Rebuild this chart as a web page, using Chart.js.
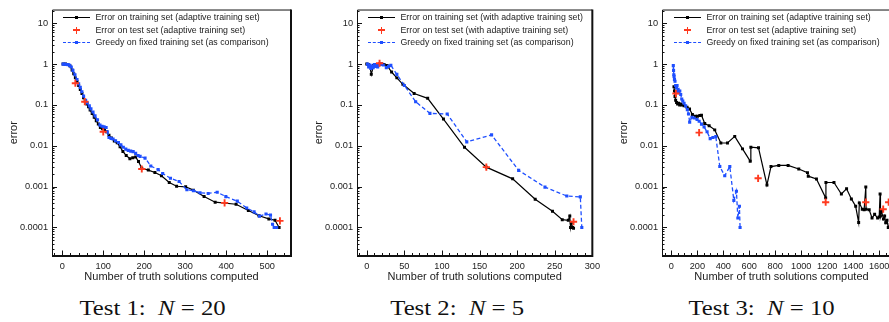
<!DOCTYPE html>
<html>
<head>
<meta charset="utf-8">
<script src="https://cdn.jsdelivr.net/npm/chart.js@4.4.1/dist/chart.umd.min.js"></script>
<style>
  body { margin: 0; width: 889px; height: 322px; overflow: hidden; background: #fff; position: relative;
         font-family: "Liberation Sans", Arial, sans-serif; }
  canvas { position: absolute; top: 0; }
  .leg { position: absolute; font-size: 8.8px; color: #222; white-space: nowrap; }
  .row { height: 12.6px; line-height: 12.6px; }
  .smp { display: inline-block; position: relative; width: 27px; height: 12.6px; vertical-align: top; margin-right: 5.5px; }
  .ln { position: absolute; left: 0; right: 0; top: 6px; height: 0; }
  .ln.k { border-top: 1.2px solid #000; }
  .ln.b { border-top: 1.3px dashed #1f4fff; }
  .sq { position: absolute; left: 12px; top: 5px; width: 3px; height: 3px; }
  .cr1, .cr2 { position: absolute; background: #ff3a1f; }
  .cr1 { left: 10px; top: 5.8px; width: 7px; height: 1.8px; }
  .cr2 { left: 12.6px; top: 3.2px; width: 1.8px; height: 7px; }
  .cap { position: absolute; width: 300px; text-align: center; top: 298px; line-height: 21px;
         font-family: "Liberation Serif", "DejaVu Serif", serif; font-size: 21.5px; color: #111; }
  .cap span { display: inline-block; transform: scaleX(1.15); transform-origin: center; white-space: pre; }
</style>
</head>
<body>
<canvas id="c1" width="300" height="290" style="left:0px"></canvas>
<canvas id="c2" width="300" height="290" style="left:305px"></canvas>
<canvas id="c3" width="300" height="290" style="left:610px"></canvas>
<div id="legends"></div>
<div class="cap" style="left:3px"><span>Test 1:  <i>N</i> = 20</span></div>
<div class="cap" style="left:307px"><span>Test 2:  <i>N</i> = 5</span></div>
<div class="cap" style="left:612px"><span>Test 3:  <i>N</i> = 10</span></div>
<script>
// Test 1 (N = 20)
const t1TrainX = [2, 8, 14, 19, 24, 28, 32, 36, 40, 44, 48, 52, 56, 60, 64, 68, 73, 78, 83, 88, 93, 98, 103, 108, 114, 120, 127, 134, 141, 148, 156, 165, 172, 179, 186, 194, 210, 226, 242, 261, 279, 301, 320, 346, 373, 424, 454, 480, 504, 519, 529];
const t1TrainErr = [1.0, 1.0, 0.97, 0.9, 0.72, 0.58, 0.46, 0.37, 0.3, 0.24, 0.19, 0.15, 0.125, 0.105, 0.09, 0.075, 0.062, 0.05, 0.041, 0.034, 0.028, 0.026, 0.025, 0.022, 0.018, 0.0155, 0.013, 0.0118, 0.0095, 0.0072, 0.0058, 0.0048, 0.0051, 0.0053, 0.0041, 0.0028, 0.00254, 0.00222, 0.00185, 0.00126, 0.00102, 0.00099, 0.00082, 0.00057, 0.000415, 0.00037, 0.00026, 0.000194, 0.000162, 0.00015, 0.0001];
const t1TestX = [32, 55, 100, 194, 396, 531];
const t1TestErr = [0.34, 0.12, 0.022, 0.0027, 0.0004, 0.000145];
const t1GreedyX = [2, 6, 10, 14, 18, 22, 26, 31, 36, 40, 44, 48, 52, 57, 61, 66, 70, 75, 80, 86, 92, 97, 102, 107, 110, 114, 119, 124, 130, 137, 143, 149, 155, 161, 167, 173, 179, 185, 190, 202, 216, 234, 245, 264, 285, 304, 320, 336, 356, 378, 399, 427, 450, 468, 481, 497, 508, 513, 517, 523];
const t1GreedyErr = [1.0, 1.0, 0.98, 0.97, 0.93, 0.85, 0.7, 0.55, 0.42, 0.33, 0.27, 0.21, 0.165, 0.13, 0.112, 0.095, 0.08, 0.067, 0.054, 0.043, 0.032, 0.03, 0.029, 0.028, 0.022, 0.016, 0.0152, 0.0146, 0.0133, 0.012, 0.0105, 0.0092, 0.0083, 0.0077, 0.0074, 0.0072, 0.0065, 0.0058, 0.0055, 0.005, 0.0032, 0.0026, 0.0021, 0.0016, 0.00133, 0.00084, 0.00079, 0.00071, 0.00068, 0.00073, 0.00057, 0.00044, 0.0003, 0.00024, 0.00019, 0.000214, 0.0002, 0.00012, 0.0001, 0.0001];

// Test 2 (N = 5)
const t2TrainX = [0, 2, 4, 6, 9, 13, 17, 20, 23, 27, 33, 40, 48, 63, 81, 102, 130, 159, 194, 224, 247, 260, 268, 270, 271, 272, 274, 275];
const t2TrainErr = [1.0, 0.98, 0.9, 0.56, 0.92, 0.98, 1.0, 1.0, 0.98, 0.93, 0.64, 0.46, 0.32, 0.19, 0.145, 0.045, 0.0092, 0.003, 0.00155, 0.00049, 0.00025, 0.000155, 0.00015, 0.00019, 0.0001, 0.00013, 0.0001, 0.000095];
const t2TestX = [17, 159, 275];
const t2TestErr = [1.05, 0.003, 0.000138];
const t2GreedyX = [1, 2.5, 4, 5.5, 7, 8.5, 10, 11.5, 13, 14.5, 16, 19, 22, 26, 29, 32, 40, 50, 65, 84, 107, 133, 166, 202, 237, 266, 284, 286];
const t2GreedyErr = [1.0, 0.85, 0.95, 0.78, 0.9, 0.82, 0.97, 0.88, 0.93, 0.85, 0.95, 1.0, 0.95, 0.82, 0.88, 0.93, 0.56, 0.3, 0.12, 0.062, 0.06, 0.0125, 0.0185, 0.0025, 0.00097, 0.00059, 0.00056, 0.0001];

// Test 3 (N = 10)
const t3TrainX = [20, 24, 28, 33, 40, 48, 56, 64, 72, 82, 98, 121, 140, 162, 185, 201, 219, 232, 257, 291, 334, 381, 432, 488, 548, 607, 612, 671, 736, 767, 827, 899, 981, 1048, 1054, 1117, 1188, 1190, 1252, 1309, 1349, 1386, 1419, 1442, 1447, 1470, 1484, 1497, 1499, 1523, 1545, 1565, 1588, 1600, 1607, 1610, 1618, 1633, 1642, 1650, 1660, 1670, 1685, 1700];
const t3TrainErr = [0.28, 0.22, 0.16, 0.13, 0.115, 0.105, 0.11, 0.1, 0.105, 0.1, 0.095, 0.088, 0.08, 0.058, 0.053, 0.053, 0.055, 0.056, 0.035, 0.031, 0.0245, 0.0117, 0.0117, 0.017, 0.0084, 0.0042, 0.0092, 0.0089, 0.0011, 0.0031, 0.0033, 0.0033, 0.0027, 0.0022, 0.0018, 0.00154, 0.00053, 0.00126, 0.00126, 0.00066, 0.00089, 0.0005, 0.00033, 0.000132, 0.0004, 0.00028, 0.00027, 0.00098, 0.00028, 0.00027, 0.00017, 0.00021, 0.00017, 0.00018, 0.00066, 0.00019, 0.00025, 0.00016, 0.00019, 0.00013, 0.00015, 0.0001, 0.00012, 0.0001];
const t3TestX = [35, 214, 668, 1188, 1497, 1631, 1673];
const t3TestErr = [0.19, 0.021, 0.0016, 0.000415, 0.000415, 0.00028, 0.000415];
const t3GreedyX = [15, 17, 19, 21, 24, 28, 33, 39, 44, 48, 52, 58, 65, 72, 80, 88, 98, 110, 123, 132, 141, 158, 175, 198, 214, 232, 252, 275, 299, 320, 342, 373, 411, 450, 481, 501, 512, 524, 529];
const t3GreedyErr = [0.92, 0.7, 0.55, 0.5, 0.42, 0.38, 0.3, 0.27, 0.3, 0.22, 0.24, 0.2, 0.22, 0.18, 0.14, 0.125, 0.11, 0.095, 0.077, 0.06, 0.038, 0.05, 0.048, 0.044, 0.04, 0.034, 0.029, 0.022, 0.015, 0.016, 0.0168, 0.0031, 0.00185, 0.0031, 0.00046, 0.00077, 0.00017, 0.00033, 0.0001];

// axis ticks
const yTickVals = [0.0001, 0.001, 0.01, 0.1, 1, 10];
const yTickLabels = ['0.0001', '0.001', '0.01', '0.1', '1', '10'];
const t1XTicks = [0, 100, 200, 300, 400, 500];
const t2XTicks = [0, 50, 100, 150, 200, 250, 300];
const t3XTicks = [0, 200, 400, 600, 800, 1000, 1200, 1400, 1600];

const labelsA = ['Error on training set (adaptive training set)', 'Error on test set (adaptive training set)', 'Greedy on fixed training set (as comparison)'];
const labelsB = ['Error on training set (with adaptive training set)', 'Error on test set (with adaptive training set)', 'Greedy on fixed training set (as comparison)'];

const BLACK = '#000000', RED = '#ff3a1f', BLUE = '#1f4fff';
const pts = (xs, ys) => xs.map((x, i) => ({ x: x, y: ys[i] }));

Chart.defaults.font.family = '"Liberation Sans", Arial, sans-serif';
Chart.defaults.color = '#222';

// frame with inward ticks, like the original plotting tool
const frame = {
  id: 'frame',
  afterDatasetsDraw(chart, args, opts) {
    const { ctx, chartArea: a, scales: { x, y } } = chart;
    ctx.save();
    ctx.strokeStyle = '#111';
    ctx.lineWidth = 1;
    ctx.beginPath();
    // y ticks, major on decades and minor in between
    for (let d = -5; d <= 1; d++) {
      for (let m = 1; m <= 9; m++) {
        const v = m * Math.pow(10, d);
        if (v < y.min || v > y.max) continue;
        const py = Math.round(y.getPixelForValue(v)) + 0.5;
        const len = m === 1 ? 5 : 2.5;
        ctx.moveTo(a.left, py);
        ctx.lineTo(a.left + len, py);
      }
    }
    // x ticks
    for (let v = Math.ceil(x.min / opts.minor) * opts.minor; v <= x.max; v += opts.minor) {
      const px = Math.round(x.getPixelForValue(v)) + 0.5;
      const len = v % opts.major === 0 ? 5.5 : 3;
      ctx.moveTo(px, a.bottom);
      ctx.lineTo(px, a.bottom - len);
    }
    ctx.stroke();
    ctx.beginPath();
    ctx.moveTo(a.left + 0.5, a.bottom);
    ctx.lineTo(a.left + 0.5, a.top + 0.5);
    ctx.lineTo(a.right, a.top + 0.5);
    ctx.stroke();
    ctx.lineWidth = 2;
    ctx.beginPath();
    ctx.moveTo(a.right, a.top);
    ctx.lineTo(a.right, a.bottom);
    ctx.lineTo(a.left, a.bottom);
    ctx.stroke();
    ctx.restore();
  }
};

function makeChart(id, train, test, greedy, xMin, xMax, xTicks, minor, labels) {
  return new Chart(id, {
    type: 'scatter',
    data: {
      datasets: [{
        label: labels[1],
        data: test,
        pointStyle: 'cross',
        pointRadius: 3.6,
        pointBorderWidth: 1.9,
        borderColor: RED,
        backgroundColor: RED,
        showLine: false,
        order: 0
      }, {
        label: labels[2],
        data: greedy,
        showLine: true,
        borderColor: BLUE,
        backgroundColor: BLUE,
        borderWidth: 1.3,
        borderDash: [4, 2.5],
        pointStyle: 'rect',
        pointRadius: 2.2,
        pointBorderWidth: 0,
        order: 1
      }, {
        label: labels[0],
        data: train,
        showLine: true,
        borderColor: BLACK,
        backgroundColor: BLACK,
        borderWidth: 1.2,
        pointStyle: 'rect',
        pointRadius: 2.1,
        pointBorderWidth: 0,
        order: 2
      }]
    },
    options: {
      responsive: false,
      animation: false,
      devicePixelRatio: 1,
      layout: { padding: { top: 5, right: 9, left: 0, bottom: 0 } },
      plugins: { legend: { display: false }, tooltip: { enabled: false }, frame: { major: xTicks[1] - xTicks[0], minor: minor } },
      scales: {
        x: {
          type: 'linear',
          min: xMin,
          max: xMax,
          grid: { display: false, drawTicks: false },
          border: { display: false },
          afterBuildTicks: s => { s.ticks = xTicks.map(v => ({ value: v })); },
          afterFit: s => { s.height = 34; },
          ticks: { font: { size: 9.2 }, padding: 5, maxRotation: 0, autoSkip: false, callback: v => String(v) },
          title: { display: true, text: 'Number of truth solutions computed', font: { size: 11 }, padding: { top: 0, bottom: 6.4 } }
        },
        y: {
          type: 'logarithmic',
          min: 2e-5,
          max: 21.7,
          grid: { display: false, drawTicks: false },
          border: { display: false },
          afterBuildTicks: s => { s.ticks = yTickVals.map(v => ({ value: v })); },
          afterFit: s => { s.width = 52; },
          ticks: { font: { size: 9.2 }, padding: 4, callback: (v) => yTickLabels[yTickVals.indexOf(v)] },
          title: { display: true, text: 'error', font: { size: 11 }, padding: { top: 7.4, bottom: 0 } }
        }
      }
    },
    plugins: [frame]
  });
}

makeChart('c1', pts(t1TrainX, t1TrainErr), pts(t1TestX, t1TestErr), pts(t1GreedyX, t1GreedyErr), -25, 558, t1XTicks, 20, labelsA);
makeChart('c2', pts(t2TrainX, t2TrainErr), pts(t2TestX, t2TestErr), pts(t2GreedyX, t2GreedyErr), -13, 300, t2XTicks, 10, labelsB);
makeChart('c3', pts(t3TrainX, t3TrainErr), pts(t3TestX, t3TestErr), pts(t3GreedyX, t3GreedyErr), -72, 1768, t3XTicks, 50, labelsA);

// legends inside the plot areas
const legendLeft = [63, 368, 674];
const legendLabels = [labelsA, labelsB, labelsA];
const box = document.getElementById('legends');
legendLeft.forEach((lx, i) => {
  const lab = legendLabels[i];
  const d = document.createElement('div');
  d.className = 'leg';
  d.style.left = lx + 'px';
  d.style.top = '11px';
  d.innerHTML =
    '<div class="row"><span class="smp"><i class="ln k"></i><i class="sq" style="background:' + BLACK + '"></i></span>' + lab[0] + '</div>' +
    '<div class="row"><span class="smp"><i class="cr1"></i><i class="cr2"></i></span>' + lab[1] + '</div>' +
    '<div class="row"><span class="smp"><i class="ln b"></i><i class="sq" style="background:' + BLUE + '"></i></span>' + lab[2] + '</div>';
  box.appendChild(d);
});
</script>
</body>
</html>
